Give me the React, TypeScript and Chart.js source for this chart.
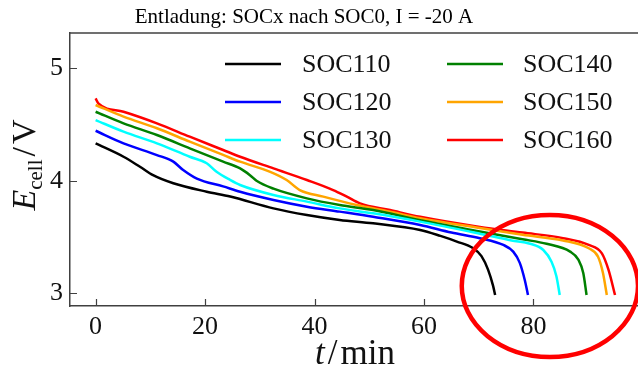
import { useEffect, useRef } from "react";
import { Chart, registerables } from "chart.js";

Chart.register(...registerables);

const chartTitle = "Entladung: SOCx nach SOC0, I = -20 A";
const seriesNames = ["SOC110", "SOC120", "SOC130", "SOC140", "SOC150", "SOC160"];
const seriesColors = ["#000000", "#0000ff", "#00ffff", "#008000", "#ffa500", "#ff0000"];

const t110 = [0, 5.1, 8.1, 10.5, 14.2, 20.3, 24.6, 32.5, 38.6, 44.6, 50.7, 59.3, 63, 66, 69, 70.5, 71.7, 72.6, 73];
const e110 = [4.333, 4.214, 4.125, 4.05, 3.978, 3.903, 3.86, 3.755, 3.696, 3.652, 3.622, 3.563, 3.51, 3.46, 3.4, 3.33, 3.21, 3.07, 2.985];

const t120 = [0, 5.1, 11.2, 14.2, 16, 18.5, 23.3, 26.4, 32.5, 38.6, 44.6, 50.7, 59.3, 65, 70.2, 74.5, 76.3, 77.5, 78.4, 79];
const e120 = [4.445, 4.333, 4.229, 4.17, 4.096, 4.02, 3.95, 3.903, 3.83, 3.77, 3.726, 3.68, 3.607, 3.54, 3.49, 3.43, 3.37, 3.27, 3.12, 2.985];

const t130 = [0, 5.1, 11.2, 17.2, 20.3, 22.1, 24.6, 26.4, 32.5, 38.6, 44.6, 50.7, 59.3, 70.2, 76, 79.4, 81.8, 83.3, 84.2, 84.8];
const e130 = [4.54, 4.437, 4.333, 4.214, 4.156, 4.08, 4.007, 3.963, 3.874, 3.815, 3.755, 3.711, 3.637, 3.53, 3.47, 3.44, 3.385, 3.28, 3.15, 2.985];

const t140 = [0, 5.1, 11.2, 17.2, 23.3, 26.4, 28.2, 29.4, 32.5, 38.6, 44.6, 50.7, 59.3, 70.2, 78, 82.4, 86.7, 88.2, 89.1, 89.7];
const e140 = [4.614, 4.511, 4.407, 4.289, 4.17, 4.11, 4.05, 4.0, 3.93, 3.844, 3.785, 3.74, 3.65, 3.55, 3.48, 3.44, 3.37, 3.3, 3.18, 2.985];

const t150 = [0, 5.1, 11.2, 17.2, 23.3, 26.4, 31.9, 34.9, 37.3, 41.6, 47.7, 53.8, 59.3, 70.2, 78, 85.4, 90.1, 91.8, 92.7, 93.4];
const e150 = [4.674, 4.57, 4.467, 4.348, 4.23, 4.17, 4.08, 4.007, 3.918, 3.859, 3.785, 3.725, 3.667, 3.58, 3.52, 3.47, 3.4, 3.325, 3.18, 2.985];

const t160 = [0, 0.5, 5.1, 11.2, 17.2, 23.3, 26.4, 32.5, 38.6, 43.4, 45.9, 48.3, 53.8, 59.3, 70.2, 78, 85.4, 90.1, 92.5, 93.7, 94.9];
const e160 = [4.733, 4.689, 4.614, 4.511, 4.392, 4.274, 4.214, 4.11, 4.007, 3.918, 3.859, 3.8, 3.74, 3.68, 3.59, 3.54, 3.49, 3.43, 3.355, 3.21, 2.985];

const seriesTimes = [t110, t120, t130, t140, t150, t160];
const seriesVolts = [e110, e120, e130, e140, e150, e160];

const xTicks = [0, 20, 40, 60, 80];
const yTicks = [3, 4, 5];
const xMin = -4.68;
const xMax = 99.1;
const yMin = 2.887;
const yMax = 5.314;

// highlight ellipse (data units)
const ellipseT = 83;
const ellipseE = 3.065;
const ellipseRT = 16.1;
const ellipseRE = 0.631;

const SERIF = '"Liberation Serif", "Times New Roman", serif';
const AXIS_COLOR = "#404040";

function drawPieces(ctx: any, pieces: { text: string; font: string; dy: number; gap: number }[], center: number) {
  let total = 0;
  const widths = pieces.map((p) => {
    ctx.font = p.font;
    const w = ctx.measureText(p.text).width;
    total += w + p.gap;
    return w;
  });
  let s = center - total / 2;
  pieces.forEach((p, i) => {
    ctx.font = p.font;
    ctx.fillText(p.text, s, p.dy);
    s += widths[i] + p.gap;
  });
}

const decorPlugin = {
  id: "decor",
  afterDraw(chart: any) {
    const { ctx, chartArea: a, scales } = chart;
    const x = scales.x;
    const y = scales.y;
    ctx.save();
    // top frame line
    ctx.strokeStyle = AXIS_COLOR;
    ctx.lineWidth = 1.5;
    ctx.beginPath();
    ctx.moveTo(a.left, a.top);
    ctx.lineTo(a.right, a.top);
    ctx.stroke();
    // inward tick marks
    ctx.beginPath();
    for (const v of xTicks) {
      const px = Math.round(x.getPixelForValue(v)) + 0.5;
      ctx.moveTo(px, a.bottom);
      ctx.lineTo(px, a.bottom - 7);
    }
    for (const v of yTicks) {
      const py = Math.round(y.getPixelForValue(v)) + 0.5;
      ctx.moveTo(a.left, py);
      ctx.lineTo(a.left + 7, py);
    }
    ctx.lineWidth = 1.2;
    ctx.stroke();

    // title
    ctx.fillStyle = "#000";
    ctx.font = `21px ${SERIF}`;
    ctx.textAlign = "center";
    ctx.textBaseline = "middle";
    ctx.fillText(chartTitle, 304, 17);

    // legend (two columns x three rows)
    const colLine = [225, 447];
    const colText = [302, 523];
    const rowY = [64, 102, 140];
    ctx.font = `26px ${SERIF}`;
    ctx.textAlign = "left";
    chart.data.datasets.forEach((ds: any, i: number) => {
      const col = Math.floor(i / 3);
      const row = i % 3;
      const ly = rowY[row];
      ctx.strokeStyle = ds.borderColor;
      ctx.lineWidth = 2.6;
      ctx.beginPath();
      ctx.moveTo(colLine[col], ly);
      ctx.lineTo(colLine[col] + 56, ly);
      ctx.stroke();
      ctx.fillStyle = "#111";
      ctx.fillText(ds.label, colText[col], ly + 1);
    });

    // x axis title: t / min
    ctx.textBaseline = "alphabetic";
    ctx.fillStyle = "#111";
    ctx.save();
    ctx.translate(0, 364);
    drawPieces(
      ctx,
      [
        { text: "t", font: `italic 35px ${SERIF}`, dy: 0, gap: 3 },
        { text: "/", font: `35px ${SERIF}`, dy: 0, gap: 3 },
        { text: "min", font: `35px ${SERIF}`, dy: 0, gap: 0 },
      ],
      355
    );
    ctx.restore();

    // y axis title: E_cell / V
    ctx.save();
    ctx.translate(35, 165);
    ctx.rotate(-Math.PI / 2);
    drawPieces(
      ctx,
      [
        { text: "E", font: `italic 34px ${SERIF}`, dy: 0, gap: 0 },
        { text: "cell", font: `21px ${SERIF}`, dy: 7, gap: 3 },
        { text: "/", font: `34px ${SERIF}`, dy: 0, gap: 3 },
        { text: "V", font: `34px ${SERIF}`, dy: 0, gap: 0 },
      ],
      0
    );
    ctx.restore();
    ctx.restore();

    // red highlight ellipse
    ctx.save();
    const cx = x.getPixelForValue(ellipseT);
    const cy = y.getPixelForValue(ellipseE);
    const rx = Math.abs(x.getPixelForValue(ellipseT + ellipseRT) - cx);
    const ry = Math.abs(y.getPixelForValue(ellipseE + ellipseRE) - cy);
    ctx.strokeStyle = "#ff0000";
    ctx.lineWidth = 4.5;
    ctx.beginPath();
    ctx.ellipse(cx, cy, rx, ry, 0, 0, Math.PI * 2);
    ctx.stroke();
    ctx.restore();
  },
};

export default function App() {
  const ref = useRef<HTMLCanvasElement | null>(null);
  useEffect(() => {
    if (!ref.current) return;
    const datasets = seriesNames.map((name, i) => ({
      label: name,
      data: seriesTimes[i].map((t, k) => ({ x: t, y: seriesVolts[i][k] })),
      borderColor: seriesColors[i],
      backgroundColor: seriesColors[i],
      borderWidth: 2.5,
      pointRadius: 0,
      cubicInterpolationMode: "monotone" as const,
      fill: false,
      clip: false as any,
    }));
    const chart = new Chart(ref.current, {
      type: "line",
      data: { datasets },
      options: {
        responsive: false,
        animation: false,
        events: [],
        layout: { padding: { top: 33, left: 0, right: 0, bottom: 0 } },
        plugins: {
          legend: { display: false },
          title: { display: false },
          tooltip: { enabled: false },
        },
        scales: {
          x: {
            type: "linear",
            min: xMin,
            max: xMax,
            afterFit: (s: any) => {
              s.height = 62;
            },
            afterBuildTicks: (s: any) => {
              s.ticks = xTicks.map((v) => ({ value: v }));
            },
            grid: { display: false, drawTicks: false },
            border: { display: true, color: AXIS_COLOR, width: 1.5 },
            ticks: {
              padding: 6,
              color: "#111",
              font: { family: SERIF, size: 26 },
              maxRotation: 0,
              autoSkip: false,
            },
          },
          y: {
            type: "linear",
            min: yMin,
            max: yMax,
            afterFit: (s: any) => {
              s.width = 70;
            },
            afterBuildTicks: (s: any) => {
              s.ticks = yTicks.map((v) => ({ value: v }));
            },
            grid: { display: false, drawTicks: false },
            border: { display: true, color: AXIS_COLOR, width: 1.5 },
            ticks: {
              padding: 7,
              color: "#111",
              font: { family: SERIF, size: 26 },
              autoSkip: false,
            },
          },
        },
      },
      plugins: [decorPlugin],
    });
    return () => chart.destroy();
  }, []);
  return (
    <div style={{ position: "absolute", left: 0, top: 0, width: 638, height: 368, background: "#fff" }}>
      <canvas ref={ref} width={638} height={368} style={{ display: "block" }} />
    </div>
  );
}
